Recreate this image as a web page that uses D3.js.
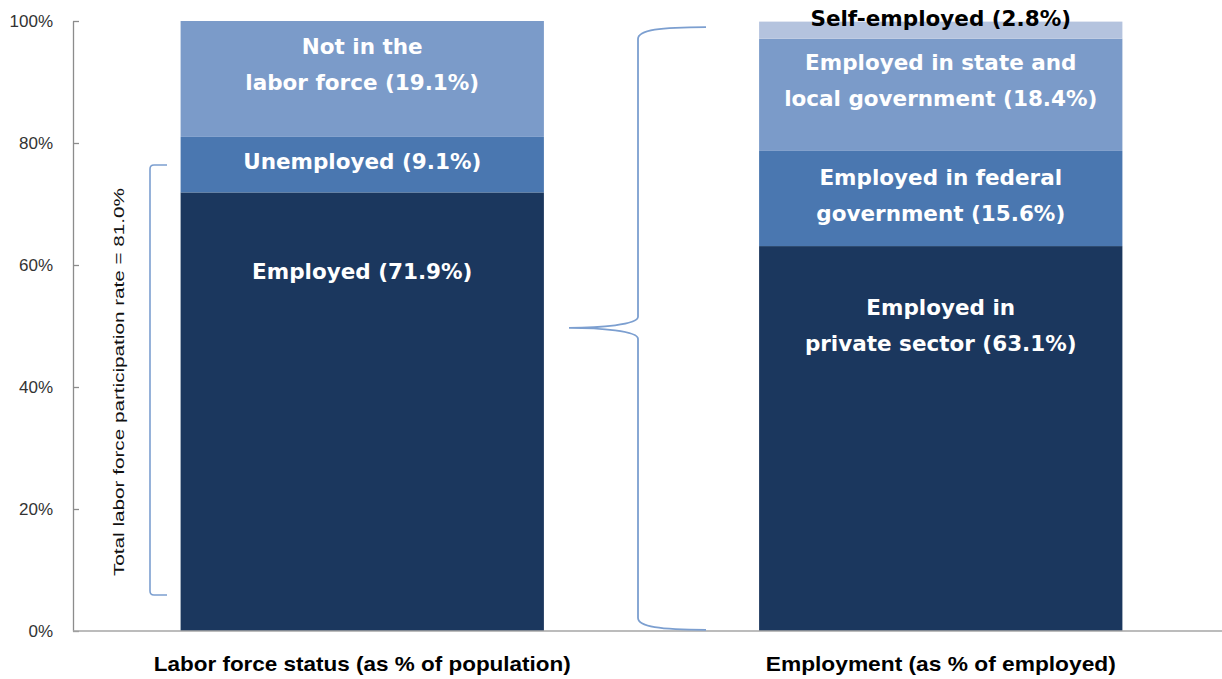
<!DOCTYPE html>
<html>
<head>
<meta charset="utf-8">
<script src="https://cdn.jsdelivr.net/npm/d3@7"></script>
<style>
  html, body { margin: 0; padding: 0; background: #fff; }
  svg { display: block; }
</style>
</head>
<body>
<svg id="chart" width="1222" height="679"></svg>
<script>
// Stacked shares for each bar, bottom to top
const categories = ["Labor force status (as % of population)", "Employment (as % of employed)"];
const laborSegments = ["Employed", "Unemployed", "Not in the labor force"];
const laborValues = [71.9, 9.1, 19.1];
const employmentSegments = ["Private sector", "Federal government", "State and local government", "Self-employed"];
const employmentValues = [63.1, 15.6, 18.4, 2.8];
const yTicks = [0, 20, 40, 60, 80, 100];

// Segment labels (lines of text) for each bar, bottom to top
const laborLabels = [["Employed (71.9%)"], ["Unemployed (9.1%)"], ["Not in the", "labor force (19.1%)"]];
const employmentLabels = [["Employed in", "private sector (63.1%)"], ["Employed in federal", "government (15.6%)"], ["Employed in state and", "local government (18.4%)"], ["Self-employed (2.8%)"]];

// Bracket annotations (in % units on the value axis)
const participationBracket = [5.9, 76.4];
const participationNote = "Total labor force participation rate = 81.0%";
const employedBrace = [0.2, 99.0, 49.7];

const svg = d3.select("#chart");
const W = 1222, H = 679;
const mLeft = 73, mRight = 1230, mTop = 21, mBottom = 631;

const x = d3.scaleBand().domain(categories).range([mLeft, mRight]).paddingInner(0.372).paddingOuter(0.186);
const y = d3.scaleLinear().domain([0, 100]).range([mBottom, mTop]);

const shades = ["#1b375e", "#4a77b0", "#7b9bc9", "#b4c3de"];

function stackSeries(values) {
  let acc = 0;
  return values.map((v, i) => {
    const d = { y0: acc, y1: Math.min(acc + v, 100), i };
    acc += v;
    return d;
  });
}

const bars = [
  { cat: categories[0], segs: stackSeries(laborValues), labels: laborLabels },
  { cat: categories[1], segs: stackSeries(employmentValues), labels: employmentLabels }
];

const labelFont = "'DejaVu Sans', Verdana, sans-serif";

bars.forEach(bar => {
  const g = svg.append("g");
  g.selectAll("rect").data(bar.segs).join("rect")
    .attr("x", x(bar.cat))
    .attr("width", x.bandwidth())
    .attr("y", d => y(d.y1))
    .attr("height", d => y(d.y0) - y(d.y1))
    .attr("fill", d => shades[d.i]);
});

// Axes
const yAxis = d3.axisLeft(y).tickValues(yTicks).tickFormat(d => d + "%").tickSizeInner(-6).tickSizeOuter(0).tickPadding(20);
const ya = svg.append("g").attr("transform", `translate(${mLeft},0)`).call(yAxis);
ya.select(".domain").attr("stroke", "#8c8c8c").attr("stroke-width", 1.3);
ya.selectAll(".tick line").attr("stroke", "#8c8c8c").attr("stroke-width", 1.3);
ya.selectAll(".tick text")
  .attr("font-family", "'Liberation Sans', Arial, sans-serif")
  .attr("font-size", 17)
  .attr("fill", "#333");

svg.append("line")
  .attr("x1", mLeft).attr("x2", W)
  .attr("y1", y(0)).attr("y2", y(0))
  .attr("stroke", "#a6a6a6").attr("stroke-width", 1.5);

// Category labels
const catWidths = [417, 350];
svg.selectAll("text.cat").data(categories).join("text")
  .attr("class", "cat")
  .attr("x", d => x(d) + x.bandwidth() / 2)
  .attr("y", 671)
  .attr("text-anchor", "middle")
  .attr("font-family", "'Liberation Sans Narrow', 'Liberation Sans', Arial, sans-serif")
  .attr("font-weight", "bold")
  .attr("font-size", 21)
  .attr("textLength", (d, i) => catWidths[i])
  .attr("lengthAdjust", "spacingAndGlyphs")
  .attr("fill", "#000")
  .text(d => d);

// Segment labels
const lineGap = 36;
bars.forEach((bar, bi) => {
  bar.segs.forEach((s, si) => {
    const lines = bar.labels[si];
    const cx = x(bar.cat) + x.bandwidth() / 2;
    const isTiny = s.y1 - s.y0 < 5;
    let cy;
    if (isTiny) {
      cy = y(s.y1) - 3;
    } else if (si === 0) {
      cy = y(s.y1) + 80;
    } else if (si === 2) {
      cy = (y(s.y0) + y(s.y1)) / 2 - 14;
    } else {
      cy = (y(s.y0) + y(s.y1)) / 2 - 3;
    }
    const t = svg.append("text")
      .attr("text-anchor", "middle")
      .attr("font-family", labelFont)
      .attr("font-weight", "bold")
      .attr("font-size", 21.5)
      .attr("fill", isTiny ? "#000" : "#fff");
    lines.forEach((ln, li) => {
      t.append("tspan")
        .attr("x", cx)
        .attr("y", cy + (li - (lines.length - 1) / 2) * lineGap + 7)
        .text(ln);
    });
  });
});

// Participation bracket on the left bar
const bx = 150, bEnd = 167, r = 4;
const by0 = y(participationBracket[0]), by1 = y(participationBracket[1]);
svg.append("path")
  .attr("d", `M${bEnd},${by1} L${bx + r},${by1} Q${bx},${by1} ${bx},${by1 + r} L${bx},${by0 - r} Q${bx},${by0} ${bx + r},${by0} L${bEnd},${by0}`)
  .attr("fill", "none").attr("stroke", "#7c9fd0").attr("stroke-width", 1.6);

svg.append("text")
  .attr("transform", `translate(124,${(by0 + by1) / 2 + 2}) rotate(-90)`)
  .attr("text-anchor", "middle")
  .attr("font-family", "'Liberation Sans', Arial, sans-serif")
  .attr("font-size", 15)
  .attr("textLength", 388)
  .attr("lengthAdjust", "spacingAndGlyphs")
  .attr("fill", "#111")
  .text(participationNote);

// Curly brace linking employed share to the employment breakdown
const cx0 = 638, tipX = 569, endX = 706;
const cb0 = y(employedBrace[0]), cb1 = y(employedBrace[1]), cm = y(employedBrace[2]);
svg.append("path")
  .attr("d", [
    `M${endX},${cb1}`,
    `C${660},${cb1} ${cx0},${cb1 + 3} ${cx0},${cb1 + 12}`,
    `L${cx0},${cm - 11}`,
    `C${cx0},${cm - 3} ${600},${cm} ${tipX},${cm}`,
    `C${600},${cm} ${cx0},${cm + 3} ${cx0},${cm + 11}`,
    `L${cx0},${cb0 - 12}`,
    `C${cx0},${cb0 - 3} ${660},${cb0} ${endX},${cb0}`
  ].join(" "))
  .attr("fill", "none").attr("stroke", "#7c9fd0").attr("stroke-width", 1.8);
</script>
</body>
</html>
